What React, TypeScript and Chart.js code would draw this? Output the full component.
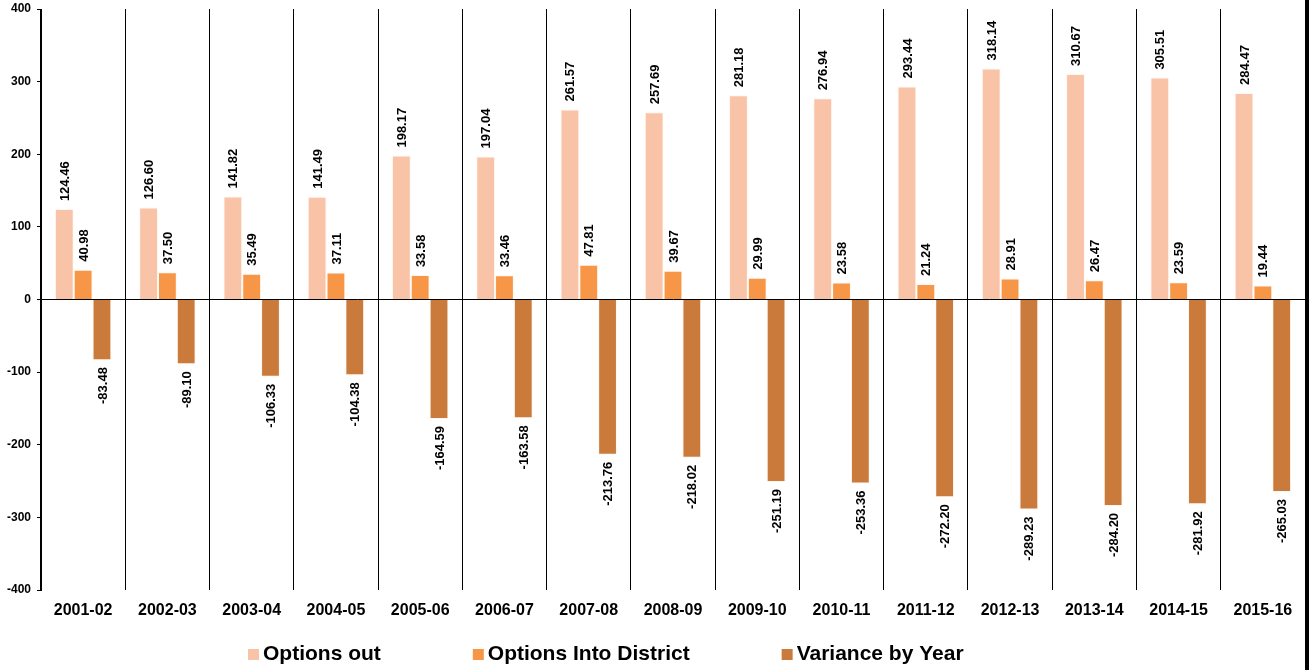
import React, { useEffect, useRef } from "react";
import { Chart, registerables } from "chart.js";

Chart.register(...registerables);

// School years shown along the bottom axis
const years = [
  "2001-02", "2002-03", "2003-04", "2004-05", "2005-06",
  "2006-07", "2007-08", "2008-09", "2009-10", "2010-11",
  "2011-12", "2012-13", "2013-14", "2014-15", "2015-16",
];

const optionsOut = [
  124.46, 126.6, 141.82, 141.49, 198.17, 197.04, 261.57, 257.69,
  281.18, 276.94, 293.44, 318.14, 310.67, 305.51, 284.47,
];

const optionsInto = [
  40.98, 37.5, 35.49, 37.11, 33.58, 33.46, 47.81, 39.67,
  29.99, 23.58, 21.24, 28.91, 26.47, 23.59, 19.44,
];

const variance = [
  -83.48, -89.1, -106.33, -104.38, -164.59, -163.58, -213.76, -218.02,
  -251.19, -253.36, -272.2, -289.23, -284.2, -281.92, -265.03,
];

const seriesNames = ["Options out", "Options Into District", "Variance by Year"];
const seriesColors = ["#F9C3A8", "#F79646", "#CA7B3B"];

const yMin = -400;
const yMax = 400;
const yStep = 100;

const FONT = "'Liberation Sans', Arial, Helvetica, sans-serif";

// Rotated value labels above positive bars and below negative ones
const valueLabels = {
  id: "valueLabels",
  afterDatasetsDraw(chart: any) {
    const ctx = chart.ctx;
    ctx.save();
    ctx.font = `bold 13px ${FONT}`;
    ctx.fillStyle = "#000";
    ctx.textBaseline = "middle";
    chart.data.datasets.forEach((ds: any, di: number) => {
      const meta = chart.getDatasetMeta(di);
      meta.data.forEach((bar: any, i: number) => {
        const v = ds.data[i] as number;
        const { x, y } = bar.getProps(["x", "y"], true);
        ctx.save();
        ctx.translate(x + 1, v >= 0 ? y - 8 : y + 7);
        ctx.rotate(-Math.PI / 2);
        ctx.textAlign = v >= 0 ? "left" : "right";
        ctx.fillText(v.toFixed(2), 0, 0);
        ctx.restore();
      });
    });
    ctx.restore();
  },
};

// Wide-spaced legend row along the bottom and the dark right edge
const bottomLegend = {
  id: "bottomLegend",
  afterDraw(chart: any) {
    const ctx = chart.ctx;
    ctx.save();
    ctx.font = `bold 21px ${FONT}`;
    ctx.textBaseline = "alphabetic";
    ctx.textAlign = "left";
    let x = 248;
    const boxTop = 649;
    chart.data.datasets.forEach((ds: any) => {
      ctx.fillStyle = ds.backgroundColor;
      ctx.fillRect(x, boxTop, 11, 11);
      ctx.fillStyle = "#000";
      ctx.fillText(ds.label, x + 15, 660);
      x += 15 + ctx.measureText(ds.label).width + 92;
    });
    ctx.fillStyle = "#000";
    ctx.fillRect(chart.width - 4, 0, 4, chart.height);
    ctx.restore();
  },
};

export default function App() {
  const canvasRef = useRef<HTMLCanvasElement | null>(null);

  useEffect(() => {
    if (!canvasRef.current) return;
    const seriesValues = [optionsOut, optionsInto, variance];
    const chart = new Chart(canvasRef.current, {
      type: "bar",
      data: {
        labels: years,
        datasets: seriesValues.map((values, i) => ({
          label: seriesNames[i],
          data: values,
          backgroundColor: seriesColors[i],
          borderColor: "rgba(255,240,230,0.55)",
          borderWidth: 1,
          categoryPercentage: 0.67,
          barPercentage: 1,
        })),
      },
      options: {
        animation: false,
        responsive: true,
        maintainAspectRatio: false,
        layout: { padding: { top: 9, right: 4, left: 0, bottom: 0 } },
        plugins: {
          legend: { display: false },
          tooltip: { enabled: false },
        },
        scales: {
          x: {
            grid: {
              offset: true,
              color: "#000",
              lineWidth: 1,
              drawTicks: false,
            },
            border: { display: false },
            ticks: {
              color: "#000",
              font: { family: FONT, size: 16, weight: "bold" },
              padding: 11,
              maxRotation: 0,
              autoSkip: false,
            },
            afterFit: (s: any) => {
              s.height = 80;
            },
          },
          y: {
            min: yMin,
            max: yMax,
            ticks: {
              stepSize: yStep,
              color: "#000",
              font: { family: FONT, size: 12, weight: "bold" },
              padding: 6,
            },
            grid: {
              color: (c: any) =>
                c.tick && c.tick.value === 0 ? "#000" : "rgba(0,0,0,0)",
              tickColor: "#000",
              tickLength: 4,
              lineWidth: 1,
            },
            border: { display: true, color: "#000", width: 1 },
            afterFit: (s: any) => {
              s.width = 41;
              s.paddingTop = 0;
              s.paddingBottom = 0;
            },
          },
        },
      },
      plugins: [valueLabels, bottomLegend],
    });
    return () => chart.destroy();
  }, []);

  return (
    <div
      style={{
        position: "fixed",
        left: 0,
        top: 0,
        width: 1309,
        height: 670,
        background: "#fff",
      }}
    >
      <canvas ref={canvasRef} />
    </div>
  );
}
